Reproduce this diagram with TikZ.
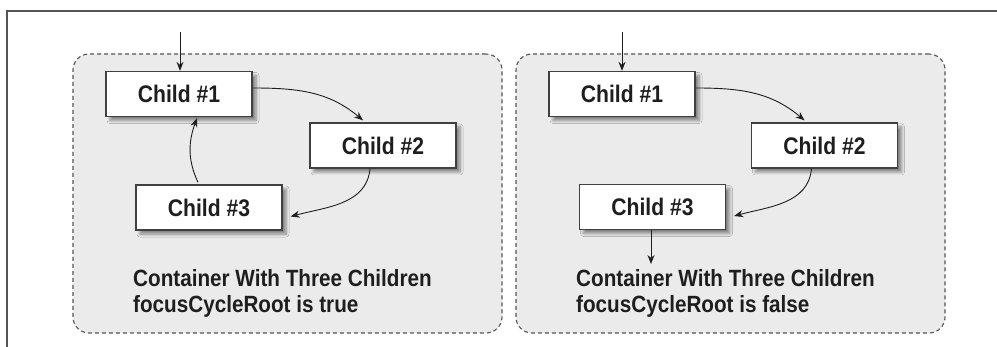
\documentclass[tikz,border=0pt]{standalone}
\usepackage{fontspec}
\newfontfamily\cfont[FakeStretch=0.88]{Liberation Sans}
\usetikzlibrary{arrows.meta,shadows.blur}
\definecolor{bgpanel}{HTML}{EBEBEB}
\definecolor{ink}{HTML}{1E1E1E}
\definecolor{framec}{HTML}{555555}
\tikzset{
  container/.style={draw=framec, line width=1.1pt, dash pattern=on 4pt off 3pt,
    fill=bgpanel, rounded corners=16pt, minimum width=429pt, minimum height=279pt, inner sep=0pt},
  childbox/.style={draw=ink!85, line width=1.3pt, fill=white, minimum width=146pt,
    minimum height=45pt, inner sep=0pt, text=ink,
    font=\cfont\bfseries\fontsize{24}{24}\selectfont,
    blur shadow={shadow xshift=4pt, shadow yshift=-4pt, shadow blur steps=6, shadow blur radius=3pt, shadow opacity=45}},
  caption/.style={anchor=base west, inner sep=0pt, text=ink,
    font=\cfont\bfseries\fontsize{23.5}{26}\selectfont},
  arr/.style={draw=ink, line width=0.9pt, -{Stealth[length=9pt,width=7pt]}},
}
\begin{document}
\begin{tikzpicture}[x=1pt,y=1pt]
\useasboundingbox (0,0) rectangle (997,-347);
% outer frame
\coordinate (fa) at (7,-347);
\coordinate (fb) at (7,-11);
\coordinate (fc) at (997,-11);
\draw[framec, line width=1.6pt] (fa) -- (fb) -- (fc);
% containers
\node[container] (k1) at (287.5,-193.5) {};
\node[container] (k2) at (730.5,-193.5) {};
% left panel
\node[childbox] (a1) at (179,-94) {Child \#1};
\node[childbox] (a2) at (383,-145.5) {Child \#2};
\node[childbox] (a3) at (209,-207.5) {Child \#3};
\coordinate (ain) at (180,-32);
\draw[arr] (ain) -- (ain |- a1.north);
\draw[arr] ([yshift=6pt]a1.east) to[out=0,in=140] ([xshift=-20pt,yshift=2pt]a2.north);
\draw[arr] ([xshift=-13pt]a2.south) to[out=-95,in=15] ([xshift=8pt,yshift=-9pt]a3.east);
\draw[arr] ([xshift=-11pt,yshift=2pt]a3.north) to[out=115,in=-110] ([xshift=18pt,yshift=-1pt]a1.south);
\node[caption] (at1) at (133,-287) {Container With Three Children};
\node[caption] (at2) at (133,-313) {focusCycleRoot is true};
% right panel
\node[childbox] (b1) at (622,-94) {Child \#1};
\node[childbox] (b2) at (824.5,-145.5) {Child \#2};
\node[childbox] (b3) at (652.5,-207) {Child \#3};
\coordinate (bin) at (622,-32);
\draw[arr] (bin) -- (bin |- b1.north);
\draw[arr] ([yshift=6pt]b1.east) to[out=0,in=140] ([xshift=-20pt,yshift=2pt]b2.north);
\draw[arr] ([xshift=-13pt]b2.south) to[out=-95,in=15] ([xshift=8pt,yshift=-9pt]b3.east);
\coordinate (bout) at (651,-264);
\draw[arr] (bout |- b3.south) -- (bout);
\node[caption] (bt1) at (576,-287) {Container With Three Children};
\node[caption] (bt2) at (576,-313) {focusCycleRoot is false};
\end{tikzpicture}
\end{document}
